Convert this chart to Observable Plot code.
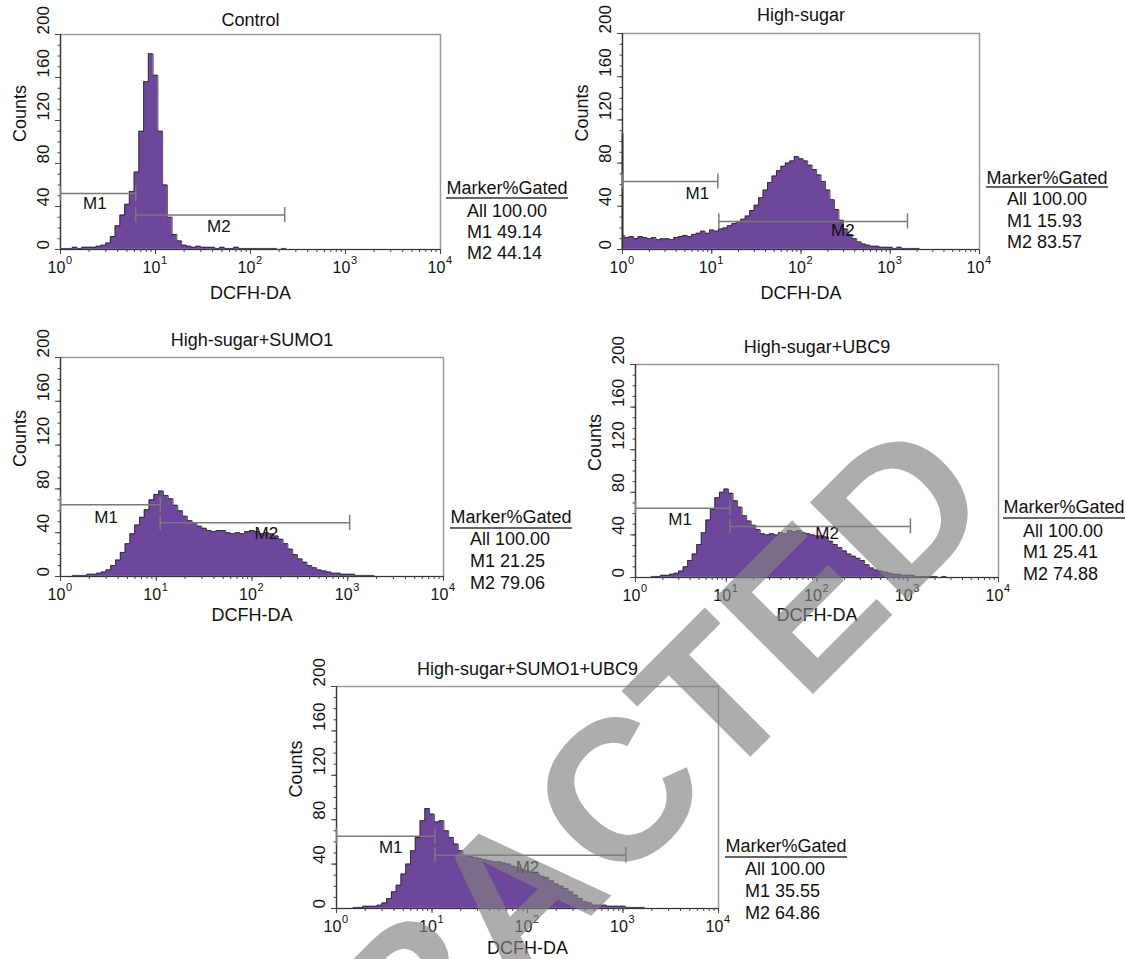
<!DOCTYPE html>
<html><head><meta charset="utf-8">
<script src="https://cdn.jsdelivr.net/npm/d3@7"></script>
<script src="https://cdn.jsdelivr.net/npm/@observablehq/plot@0.6"></script>
<style>
body{margin:0;background:#fff;}
#root{position:relative;width:1126px;height:959px;overflow:hidden;font-family:"Liberation Sans",Arial,sans-serif;color:#111;}
.panel{position:absolute;}
.panel svg{overflow:visible;}
.tline{position:absolute;font-size:18px;line-height:22px;height:22px;white-space:nowrap;color:#111;}
.uline{position:absolute;height:0;border-top:2px solid #666;}
#wm{position:absolute;left:0;top:0;pointer-events:none;}
</style></head><body><div id="root"></div>
<script>
// ---- data ----
const titles = ["Control", "High-sugar", "High-sugar+SUMO1", "High-sugar+UBC9", "High-sugar+SUMO1+UBC9"];
// channel grid: log10(DCFH-DA) from 0 to 4 in steps of 0.05 (81 channels)
const logGrid = d3.range(81).map(i => i / 20);
const controlCounts = [1,1,1,2,1,2,2,2,3,4, 6,12,22,32,42,54,72,110,156,182, 162,110,60,30,14,8,4,3,2,3, 2,2,2,1,2,1,1,2,1,1, 1,1,1,1,1,1,0,1,0,0, 0,0,0,0,0,0,0,0,0,0, 0,0,0,0,0,0,0,0,0,0, 0,0,0,0,0,0,0,0,0,0, 0];
const highSugarCounts = [13,11,12,10,12,11,10,11,9,10, 10,9,11,12,13,12,14,15,17,15, 18,17,19,20,22,24,26,28,31,36, 41,48,55,62,68,73,77,80,82,86, 84,82,78,74,69,63,55,46,37,27, 19,14,10,7,5,4,3,3,2,2, 2,1,2,1,1,1,1,0,0,0, 0,0,0,0,0,0,0,0,0,0, 0];
const sumo1Counts = [0,0,0,1,1,1,2,2,3,4, 6,10,15,22,30,39,47,54,61,70, 75,78,74,71,65,60,55,51,49,46, 44,42,41,42,42,40,39,40,39,41, 42,41,39,40,39,37,34,30,25,20, 16,13,10,8,6,5,4,3,3,2, 2,2,1,1,1,1,0,0,0,0, 0,0,0,0,0,0,0,0,0,0, 0];
const ubc9Counts = [0,0,0,0,1,1,2,2,3,4, 6,10,16,22,31,42,54,64,75,80, 83,79,72,66,58,53,49,45,41,40, 41,40,42,41,44,43,44,42,41,40, 39,39,38,34,31,28,25,22,20,18, 16,12,9,7,6,5,4,3,3,2, 2,2,1,1,1,1,1,0,1,0, 0,0,0,0,0,0,0,0,0,0, 0];
const comboCounts = [0,0,0,0,1,1,2,2,2,3, 5,9,15,21,31,40,52,64,79,90, 85,78,79,70,64,58,52,48,47,46, 45,44,43,42,42,41,40,38,37,35, 34,32,31,29,28,25,22,20,18,15, 12,9,6,5,3,3,3,2,2,2, 2,1,1,1,1,0,0,0,0,0, 0,0,0,0,0,0,0,0,0,0, 0];
const allCounts = [controlCounts, highSugarCounts, sumo1Counts, ubc9Counts, comboCounts];
// counts piled in the first channel (left edge spike)
const edgeCounts = [0, 107, 0, 0, 0];
// markers: [start, end, counts level]
const m1Markers = [[1, 6.2, 52], [1, 11.7, 63], [1, 11, 65.5], [1, 11, 65], [1, 10.7, 65]];
const m2Markers = [[6.2, 229, 32], [12, 1560, 26], [11, 1047, 49], [11, 1070, 48], [10.7, 1070, 48]];
const m1LabelPos = [[2.3, 43], [6.9, 52], [3.0, 54], [3.1, 54], [3.7, 55]];
const m2LabelPos = [[46.5, 21], [295, 18], [141, 39], [129, 41], [100, 37]];
const markerNames = ["All", "M1", "M2"];
const gatedValues = [
  ["100.00", "49.14", "44.14"],
  ["100.00", "15.93", "83.57"],
  ["100.00", "21.25", "79.06"],
  ["100.00", "25.41", "74.88"],
  ["100.00", "35.55", "64.86"]
];
const tableHeader = "Marker%Gated";
const yTicks = [0, 40, 80, 120, 160, 200];
const yMinor = d3.range(0, 201, 10);
const xMajor = [1, 10, 100, 1000, 10000];
const xExponents = ["0", "1", "2", "3", "4"];
const xMinor = [1,2,3,4,5,6,7,8,9].flatMap(m => [1, 10, 100, 1000].map(p => m * p));
const xLabel = "DCFH-DA", yLabel = "Counts";
const watermark = "RETRACTED";

// ---- layout ----
const layout = [
  {frame:[60,34,440,249], titleDy:14, xlDy:44, tbl:{cx:507, hy:188, uy:197, rx:467, rows:[211,232,253]}},
  {frame:[622,33,979,249], titleDy:18, xlDy:44, tbl:{cx:1047, hy:178, uy:186, rx:1007, rows:[199,221,242]}},
  {frame:[60,357,443,576], titleDy:17, xlDy:39, tbl:{cx:511, hy:517, uy:527, rx:470, rows:[539,561,583]}},
  {frame:[635,364,998,577], titleDy:17, xlDy:38, tbl:{cx:1064, hy:507, uy:517, rx:1023, rows:[531,552,574]}},
  {frame:[336,686,718,908], titleDy:17, xlDy:40, tbl:{cx:786, hy:846, uy:856, rx:745, rows:[869,891,913]}}
];
const purple = "#6e479c";
const root = document.getElementById("root");
const mL = 70, mR = 10, mT = 40, mB = 60;

layout.forEach((lay, p) => {
  const [L, T, R, B] = lay.frame;
  const hist = logGrid.map((g, i) => ({x: 10 ** g, y: allCounts[p][i]}));
  const m1 = m1Markers[p], m2 = m2Markers[p];
  const markers = [m1, m2];
  const ends = markers.flatMap(m => [{x: m[0], y: m[2]}, {x: m[1], y: m[2]}]);
  const chart = Plot.plot({
    width: (R - L) + mL + mR,
    height: (B - T) + mT + mB,
    marginLeft: mL, marginRight: mR, marginTop: mT, marginBottom: mB,
    style: {fontFamily: '"Liberation Sans", Arial, sans-serif', fontSize: "16px", color: "#222", background: "transparent"},
    x: {type: "log", domain: [1, 10000]},
    y: {domain: [0, 200]},
    marks: [
      Plot.areaY(hist, {x: "x", y: "y", curve: "step", fill: purple, clip: true}),
      Plot.lineY(hist, {x: "x", y: "y", curve: "step", stroke: "#262626", strokeWidth: 0.8, clip: true}),
      Plot.ruleX([1], {y1: 0, y2: edgeCounts[p], stroke: "#262626", strokeWidth: 2}),
      Plot.frame({stroke: "#9a9a9a", strokeWidth: 1.5}),
      Plot.ruleX([1], {stroke: "#333", strokeWidth: 1.2}),
      Plot.ruleY([0], {stroke: "#333", strokeWidth: 1.2}),
      Plot.axisY({ticks: yTicks, tickFormat: () => "", tickSize: 5, label: null, stroke: "#444"}),
      Plot.axisY({ticks: yMinor, tickFormat: () => "", tickSize: 2.5, label: null, stroke: "#444"}),
      Plot.axisX({ticks: xMajor, tickFormat: () => "", tickSize: 5, label: null, stroke: "#444"}),
      Plot.axisX({ticks: xMinor, tickFormat: () => "", tickSize: 3, label: null, stroke: "#444"}),
      // markers
      Plot.ruleY(markers, {x1: d => d[0], x2: d => d[1], y: d => d[2], stroke: "#7a7a7a", strokeWidth: 1.5}),
      Plot.ruleX(ends, {x: "x", y1: d => d.y - 7, y2: d => d.y + 7, stroke: "#7a7a7a", strokeWidth: 1.5}),
      Plot.text([m1LabelPos[p]], {x: d => d[0], y: d => d[1], text: () => "M1", fontSize: 17, fill: "#111"}),
      Plot.text([m2LabelPos[p]], {x: d => d[0], y: d => d[1], text: () => "M2", fontSize: 17, fill: "#111"}),
      // tick labels
      Plot.text(yTicks, {y: d => d, text: d => String(d), frameAnchor: "left", lineAnchor: "middle", dx: -17, rotate: -90, fontSize: 17, fill: "#111"}),
      Plot.text(xMajor, {x: d => d, text: () => "10", frameAnchor: "bottom", lineAnchor: "middle", dy: 18, dx: -4, fontSize: 16, fill: "#111"}),
      Plot.text(xMajor, {x: d => d, text: (d, i) => xExponents[i], frameAnchor: "bottom", lineAnchor: "middle", dy: 11, dx: 8.5, fontSize: 11, fill: "#111"}),
      // axis labels & title
      Plot.text([yLabel], {frameAnchor: "left", lineAnchor: "middle", dx: -40, rotate: -90, fontSize: 18, fill: "#111"}),
      Plot.text([xLabel], {frameAnchor: "bottom", lineAnchor: "middle", dy: lay.xlDy, fontSize: 18, fill: "#111"}),
      Plot.text([titles[p]], {frameAnchor: "top", lineAnchor: "middle", dy: -lay.titleDy, fontSize: 18, fill: "#111"})
    ]
  });
  const div = document.createElement("div");
  div.className = "panel";
  div.style.left = (L - mL) + "px";
  div.style.top = (T - mT) + "px";
  div.appendChild(chart);
  root.appendChild(div);

  // gated table
  const t = lay.tbl;
  const h = document.createElement("div");
  h.className = "tline";
  h.style.left = (t.cx - 100) + "px"; h.style.width = "200px"; h.style.textAlign = "center";
  h.style.top = (t.hy - 11) + "px";
  h.textContent = tableHeader;
  root.appendChild(h);
  const u = document.createElement("div");
  u.className = "uline";
  u.style.left = (t.cx - 61) + "px"; u.style.width = "122px"; u.style.top = t.uy + "px";
  root.appendChild(u);
  markerNames.forEach((name, k) => {
    const r = document.createElement("div");
    r.className = "tline";
    r.style.left = t.rx + "px";
    r.style.top = (t.rows[k] - 11) + "px";
    r.textContent = name + " " + gatedValues[p][k];
    root.appendChild(r);
  });
});

// watermark overlay
const wm = d3.select(root).append("svg").attr("id", "wm").attr("width", 1126).attr("height", 959);
wm.append("text")
  .attr("x", 1000).attr("y", 507)
  .attr("text-anchor", "end")
  .attr("transform", "rotate(-45, 1000, 507)")
  .attr("font-family", '"Liberation Sans", Arial, sans-serif')
  .attr("font-weight", "bold")
  .attr("font-size", 200)
  .attr("fill", "rgb(129,129,129)")
  .attr("fill-opacity", 0.65)
  .text(watermark);
</script>
</body></html>
